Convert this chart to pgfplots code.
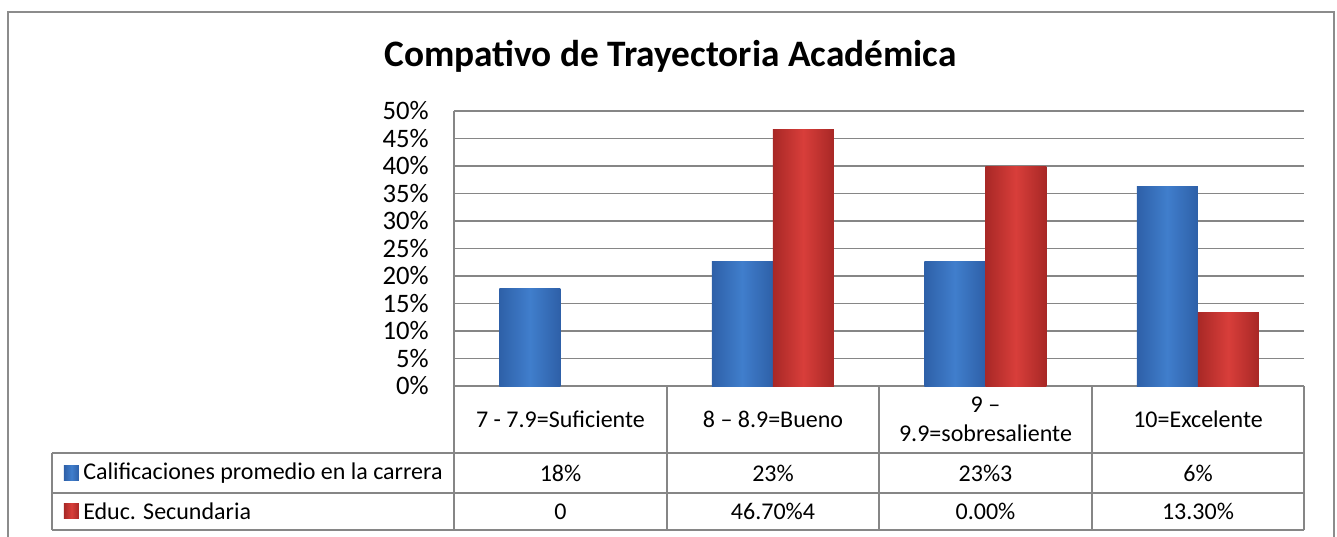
\documentclass[border=0pt]{standalone}
\usepackage{fontspec}
\setmainfont{Carlito}
\usepackage{pgfplots}
\pgfplotsset{compat=1.18}
\definecolor{gridgray}{RGB}{134,134,134}
\definecolor{framegray}{RGB}{140,140,140}
\definecolor{bluemain}{RGB}{64,126,204}
\definecolor{bluedark}{RGB}{46,96,168}
\definecolor{redmain}{RGB}{216,62,58}
\definecolor{reddark}{RGB}{168,40,38}
\newcommand{\tfont}{\fontsize{18}{21}\selectfont}
\pgfplotsset{
  bluebar/.style={ybar, bar width=45.75pt, bar shift=-22.875pt, draw=none,
    left color=bluedark, right color=bluedark, middle color=bluemain},
  redbar/.style={ybar, bar width=45.75pt, bar shift=22.875pt, draw=none,
    left color=reddark, right color=reddark, middle color=redmain},
}
\begin{document}
\begin{tikzpicture}[x=1pt,y=1pt]
\useasboundingbox (-340.5,-112.5) rectangle (662.25,289.5);
\draw[framegray, line width=1.3pt] (-334.5,-130) -- (-334.5,280.5) -- (660,280.5) -- (660,-130);
\node[anchor=base, font=\fontsize{28}{32}\selectfont\bfseries] at (162.4,239.25) {Compativo de Trayectoria Académica};
\begin{axis}[
  at={(0,0)}, anchor=south west,
  scale only axis, width=637.5pt, height=206.25pt,
  xmin=-0.5, xmax=3.5, ymin=0, ymax=50,
  ytick={0,5,...,50}, xtick=\empty,
  yticklabel={\pgfmathprintnumber{\tick}\%},
  /pgf/number format/assume math mode=true,
  yticklabel style={font=\fontsize{20}{22}\selectfont, anchor=east, inner sep=0pt, xshift=-18.75pt},
  major tick length=0pt,
  ymajorgrids, grid style={gridgray, line width=1.1pt},
  axis lines*=left, axis line style={gridgray, line width=1.1pt},
  clip=false,
]
% Calificaciones promedio en la carrera
\addplot[bluebar] coordinates {(0,17.7)};
\addplot[bluebar] coordinates {(1,22.6)};
\addplot[bluebar] coordinates {(2,22.6)};
\addplot[bluebar] coordinates {(3,36.2)};
% Educ. Secundaria
\addplot[redbar] coordinates {(1,46.6)};
\addplot[redbar] coordinates {(2,39.9)};
\addplot[redbar] coordinates {(3,13.3)};
\end{axis}
% data table
\begin{scope}[gridgray, line width=1.1pt]
\draw (-301.5,-50.25) -- (637.5,-50.25);
\draw (-301.5,-80.25) -- (637.5,-80.25);
\draw (-301.5,-108) -- (637.5,-108);
\draw (-301.5,-50.25) -- (-301.5,-108);
\foreach \xx in {0,159.75,318.75,478.5,637.5} \draw (\xx,0) -- (\xx,-108);
\end{scope}
\begin{scope}[every node/.style={font=\tfont, inner sep=0pt}]
\node at (79.875,-25.1) {7 - 7.9=Suficiente};
\node at (239.25,-25.1) {8 – 8.9=Bueno};
\node[align=center] at (398.625,-25.1) {9 –\\[1pt]9.9=sobresaliente};
\node at (558,-25.1) {10=Excelente};
\node at (79.875,-65.25) {18\%};
\node at (239.25,-65.25) {23\%};
\node at (398.625,-65.25) {23\%3};
\node at (558,-65.25) {6\%};
\node at (79.875,-94.1) {0};
\node at (239.25,-94.1) {46.70\%4};
\node at (398.625,-94.1) {0.00\%};
\node at (558,-94.1) {13.30\%};
\node[anchor=west] at (-278.25,-65.25) {Calificaciones promedio en la carrera};
\node[anchor=west] at (-278.25,-94.1) {Educ. Secundaria};
\end{scope}
\shade[left color=bluedark, right color=bluedark, middle color=bluemain] (-292.5,-70.5) rectangle (-281.25,-59.25);
\shade[left color=reddark, right color=reddark, middle color=redmain] (-292.5,-99.35) rectangle (-281.25,-88.1);
\end{tikzpicture}
\end{document}
